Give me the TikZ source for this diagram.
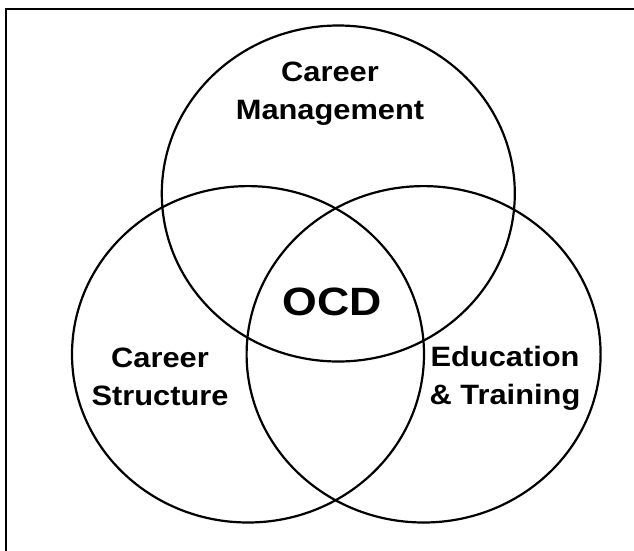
\documentclass[tikz,border=0pt]{standalone}
\usepackage{fontspec}
\setmainfont{Liberation Sans}[FakeStretch=1.1]
\newfontfamily\ocdfont{Liberation Sans}[FakeStretch=1.13]
\begin{document}
\begin{tikzpicture}[x=1pt,y=-1pt,
  ring/.style={line width=2.2pt},
  frameline/.style={line width=2.6pt},
  label/.style={inner sep=0pt,align=center,anchor=base,
    font=\bfseries\fontsize{28}{38}\selectfont},
  core/.style={inner sep=0pt,anchor=base,
    font=\ocdfont\bfseries\fontsize{39.5}{44}\selectfont}]
  \useasboundingbox (0,0) rectangle (634,550);
  \clip (0,0) rectangle (634,550);
  \fill[white] (0,0) rectangle (634,550);
  % outer frame (only its left and top sides fall inside the page)
  \draw[frameline] (6,560) -- (6,9) -- (640,9);
  % the three sets
  \draw[ring] (338.3,193.5) ellipse [x radius=176.5, y radius=168];
  \draw[ring] (248,354.3) ellipse [x radius=176, y radius=168.2];
  \draw[ring] (423.6,354.3) ellipse [x radius=177, y radius=168.2];
  % labels (anchored at the baseline of the second line)
  \node[label] (cm) at (330,119.4) {Career\\Management};
  \node[label] (cs) at (160,405.5) {Career\\Structure};
  \node[label] (et) at (505,404) {Education\\\& Training};
  \node[core] (ocd) at (332.5,315) {OCD};
\end{tikzpicture}
\end{document}
